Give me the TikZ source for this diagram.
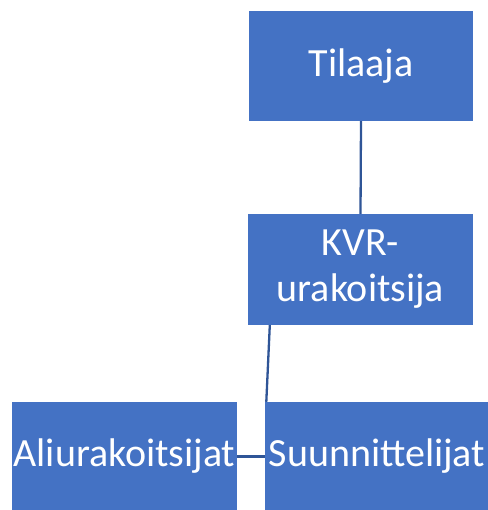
\documentclass[tikz,border=0pt]{standalone}
\usepackage{fontspec}
\setmainfont{Carlito}
\usetikzlibrary{calc}
\definecolor{boxblue}{HTML}{4472C4}
\definecolor{lineblue}{HTML}{2F5597}
\tikzset{
  orgbox/.style={fill=boxblue, draw=none, text=white, align=center, inner sep=0pt,
    font=\fontsize{40}{46}\selectfont},
  link/.style={draw=lineblue, line width=2.3pt}
}
\begin{document}
\begin{tikzpicture}[x=1pt,y=1pt]
\useasboundingbox (0,0) rectangle (487,510);
\node[orgbox, minimum width=224pt, minimum height=110pt] (til) at (361,444) {Tilaaja};
\node[orgbox, minimum width=225pt, minimum height=111pt] (kvr) at (360.5,240.5) {KVR-\\urakoitsija};
\node[orgbox, minimum width=225pt, minimum height=109pt] (ali) at (124.5,53.5) {Aliurakoitsijat};
\node[orgbox, minimum width=224pt, minimum height=109pt] (suu) at (377,53.5) {Suunnittelijat};
\coordinate (kvrout) at ($(kvr.south west)+(22,0)$);
\coordinate (suuin) at ($(suu.north west)+(1.5,0)$);
\draw[link] (til.south) -- (kvr.north);
\draw[link] (kvrout) -- (suuin);
\draw[link] (ali.east) -- (suu.west);
\end{tikzpicture}
\end{document}
